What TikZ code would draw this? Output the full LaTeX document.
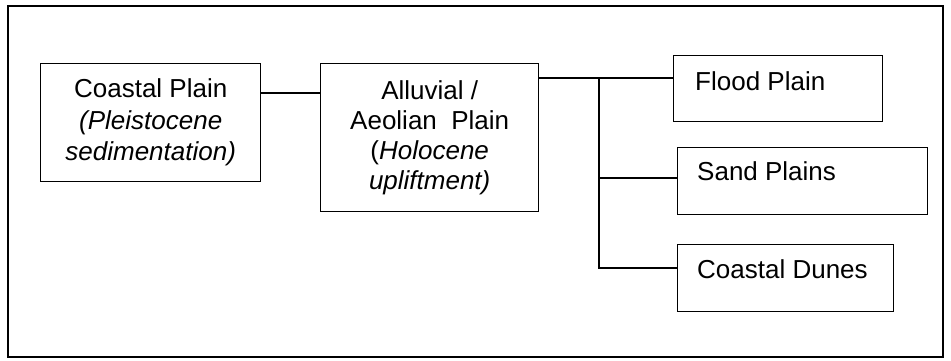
\documentclass[tikz,border=0pt]{standalone}
\usepackage{fontspec}
\setmainfont{Liberation Sans}
\tikzset{
  box/.style={draw=black, line width=1.4pt, anchor=north west, inner sep=0pt},
  frame/.style={draw=black, line width=1.4pt},
  conn/.style={draw=black, line width=1.4pt},
  lbl/.style={anchor=base west, inner sep=0pt, font=\fontsize{26}{30}\selectfont}
}
\begin{document}
\begin{tikzpicture}[x=1pt,y=-1pt]
\useasboundingbox (0,0) rectangle (951,360);
\draw[frame] (8,6) rectangle (943,357);
% left boxes
\node[box, minimum width=220pt, minimum height=118pt, align=center,
      font=\fontsize{26}{31.5}\selectfont] (cp) at (40,63)
  {Coastal Plain\\\textit{(Pleistocene}\\\textit{sedimentation)}};
\node[box, minimum width=218pt, minimum height=148pt, align=center,
      font=\fontsize{26}{30}\selectfont] (ap) at (320,63)
  {Alluvial /\\Aeolian\ \ Plain\\(\textit{Holocene}\\\textit{upliftment)}};
% right boxes
\node[box, minimum width=209pt, minimum height=66pt] (fp) at (673,55) {};
\node[box, minimum width=250pt, minimum height=67pt] (sp) at (677,147) {};
\node[box, minimum width=216pt, minimum height=67pt] (cd) at (677,244) {};
\node[lbl] (fpt) at (695,90) {Flood Plain};
\node[lbl] (spt) at (697,180) {Sand Plains};
\node[lbl] (cdt) at (697,278) {Coastal Dunes};
% connectors
\coordinate (j1) at (599,78);
\coordinate (j2) at (599,178);
\coordinate (j3) at (599,268);
\draw[conn] (cp.east |- 0,93) -- (ap.west |- 0,93);
\draw[conn] (ap.east |- 0,78) -- (fp.west |- 0,78);
\draw[conn] (j1) -- (j3) -- (cd.west |- j3);
\draw[conn] (j2) -- (sp.west |- j2);
\end{tikzpicture}
\end{document}
